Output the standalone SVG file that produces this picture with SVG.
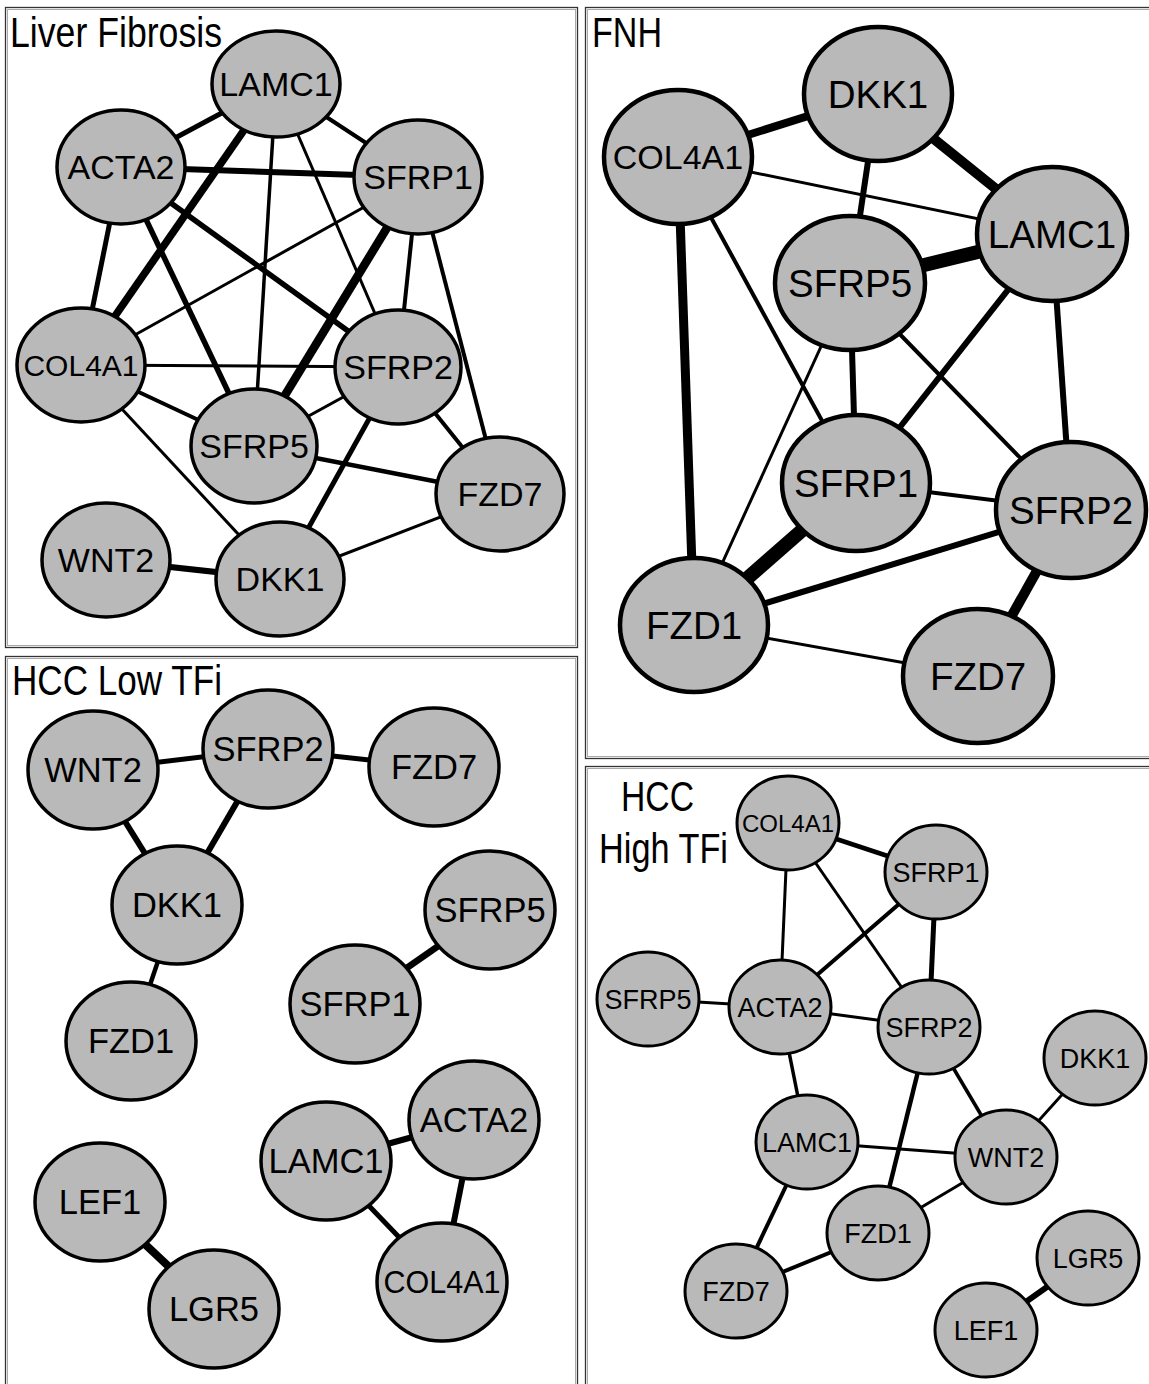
<svg xmlns="http://www.w3.org/2000/svg" width="1149" height="1384" viewBox="0 0 1149 1384">
<style>
.bg{fill:#fff}
.fo{fill:none;stroke:#333;stroke-width:1.3}
.fi{fill:none;stroke:#aaa;stroke-width:1}
.ttl{font-family:"Liberation Sans",Arial,sans-serif;font-size:42px;fill:#000}
.n ellipse{fill:#b9b9b9;stroke:#000}
.n text{font-family:"Liberation Sans",Arial,sans-serif;fill:#000;text-anchor:middle}
.p1 ellipse{stroke-width:3.5}
.p1 text{font-size:34px}
.p2 ellipse{stroke-width:4.5}
.p2 text{font-size:38.5px}
.p3 ellipse{stroke-width:3.5}
.p3 text{font-size:34.5px}
.p4 ellipse{stroke-width:3}
.p4 text{font-size:27px}
.e line{stroke:#000;stroke-linecap:butt}
</style>
<rect class="bg" x="0" y="0" width="1149" height="1384"/>
<g id="frames">
<rect class="fo" x="5.5" y="7.5" width="572" height="640"/>
<rect class="fi" x="7.5" y="9.5" width="568" height="636"/>
<rect class="fo" x="5.5" y="656.5" width="572" height="740"/>
<rect class="fi" x="7.5" y="658.5" width="568" height="740"/>
<rect class="fo" x="585.5" y="7.5" width="580" height="751"/>
<rect class="fi" x="587.5" y="9.5" width="580" height="747"/>
<rect class="fo" x="585.5" y="766.5" width="580" height="640"/>
<rect class="fi" x="587.5" y="768.5" width="580" height="640"/>
</g>
<g id="titles">
<text class="ttl" x="10" y="47" textLength="212" lengthAdjust="spacingAndGlyphs">Liver Fibrosis</text>
<text class="ttl" x="592" y="47" textLength="70" lengthAdjust="spacingAndGlyphs">FNH</text>
<text class="ttl" x="12" y="695" textLength="210" lengthAdjust="spacingAndGlyphs">HCC Low TFi</text>
<text class="ttl" x="621" y="811" textLength="73" lengthAdjust="spacingAndGlyphs">HCC</text>
<text class="ttl" x="599" y="863" textLength="129" lengthAdjust="spacingAndGlyphs">High TFi</text>
</g>
<g id="connectors" class="e">
<!-- Liver Fibrosis -->
<line x1="276" y1="84" x2="121" y2="167" stroke-width="5"/>
<line x1="276" y1="84" x2="418" y2="177" stroke-width="4"/>
<line x1="276" y1="84" x2="81" y2="365" stroke-width="7.5"/>
<line x1="276" y1="84" x2="254" y2="446" stroke-width="3.5"/>
<line x1="276" y1="84" x2="398" y2="367" stroke-width="3"/>
<line x1="121" y1="167" x2="418" y2="177" stroke-width="6"/>
<line x1="121" y1="167" x2="81" y2="365" stroke-width="5"/>
<line x1="121" y1="167" x2="254" y2="446" stroke-width="5.5"/>
<line x1="121" y1="167" x2="398" y2="367" stroke-width="5.5"/>
<line x1="418" y1="177" x2="81" y2="365" stroke-width="3"/>
<line x1="418" y1="177" x2="254" y2="446" stroke-width="8.5"/>
<line x1="418" y1="177" x2="398" y2="367" stroke-width="4"/>
<line x1="418" y1="177" x2="500" y2="494" stroke-width="4"/>
<line x1="81" y1="365" x2="398" y2="367" stroke-width="3"/>
<line x1="81" y1="365" x2="254" y2="446" stroke-width="4"/>
<line x1="81" y1="365" x2="280" y2="579" stroke-width="3"/>
<line x1="398" y1="367" x2="254" y2="446" stroke-width="3"/>
<line x1="398" y1="367" x2="500" y2="494" stroke-width="4"/>
<line x1="398" y1="367" x2="280" y2="579" stroke-width="5"/>
<line x1="254" y1="446" x2="500" y2="494" stroke-width="4.5"/>
<line x1="500" y1="494" x2="280" y2="579" stroke-width="3"/>
<line x1="106" y1="560" x2="280" y2="579" stroke-width="6"/>
<!-- FNH -->
<line x1="678" y1="157" x2="878" y2="94" stroke-width="8"/>
<line x1="878" y1="94" x2="1052" y2="234" stroke-width="10"/>
<line x1="878" y1="94" x2="850" y2="283" stroke-width="6"/>
<line x1="678" y1="157" x2="1052" y2="234" stroke-width="3"/>
<line x1="850" y1="283" x2="1052" y2="234" stroke-width="14"/>
<line x1="678" y1="157" x2="694" y2="625" stroke-width="9"/>
<line x1="678" y1="157" x2="856" y2="483" stroke-width="4"/>
<line x1="850" y1="283" x2="856" y2="483" stroke-width="6"/>
<line x1="850" y1="283" x2="694" y2="625" stroke-width="3"/>
<line x1="850" y1="283" x2="1071" y2="510" stroke-width="4"/>
<line x1="1052" y1="234" x2="856" y2="483" stroke-width="6"/>
<line x1="1052" y1="234" x2="1071" y2="510" stroke-width="6"/>
<line x1="856" y1="483" x2="1071" y2="510" stroke-width="4"/>
<line x1="856" y1="483" x2="694" y2="625" stroke-width="14"/>
<line x1="1071" y1="510" x2="694" y2="625" stroke-width="6"/>
<line x1="1071" y1="510" x2="978" y2="676" stroke-width="10"/>
<line x1="694" y1="625" x2="978" y2="676" stroke-width="3"/>
<!-- HCC Low TFi -->
<line x1="93" y1="770" x2="268" y2="749" stroke-width="5"/>
<line x1="268" y1="749" x2="434" y2="767" stroke-width="5"/>
<line x1="93" y1="770" x2="177" y2="905" stroke-width="6"/>
<line x1="268" y1="749" x2="177" y2="905" stroke-width="6"/>
<line x1="177" y1="905" x2="131" y2="1041" stroke-width="4.5"/>
<line x1="355" y1="1004" x2="490" y2="910" stroke-width="6.5"/>
<line x1="326" y1="1161" x2="474" y2="1120" stroke-width="6"/>
<line x1="474" y1="1120" x2="442" y2="1282" stroke-width="6"/>
<line x1="326" y1="1161" x2="442" y2="1282" stroke-width="5"/>
<line x1="100" y1="1202" x2="214" y2="1309" stroke-width="8"/>
<!-- HCC High TFi -->
<line x1="788" y1="823" x2="936" y2="872" stroke-width="4.5"/>
<line x1="788" y1="823" x2="780" y2="1007" stroke-width="3"/>
<line x1="788" y1="823" x2="929" y2="1027" stroke-width="3"/>
<line x1="936" y1="872" x2="780" y2="1007" stroke-width="4"/>
<line x1="936" y1="872" x2="929" y2="1027" stroke-width="5"/>
<line x1="648" y1="999" x2="780" y2="1007" stroke-width="3"/>
<line x1="780" y1="1007" x2="929" y2="1027" stroke-width="3"/>
<line x1="780" y1="1007" x2="807" y2="1142" stroke-width="3.5"/>
<line x1="929" y1="1027" x2="878" y2="1233" stroke-width="4.5"/>
<line x1="929" y1="1027" x2="1006" y2="1157" stroke-width="3.5"/>
<line x1="1095" y1="1058" x2="1006" y2="1157" stroke-width="3"/>
<line x1="807" y1="1142" x2="1006" y2="1157" stroke-width="3"/>
<line x1="807" y1="1142" x2="736" y2="1291" stroke-width="4"/>
<line x1="878" y1="1233" x2="1006" y2="1157" stroke-width="3"/>
<line x1="878" y1="1233" x2="736" y2="1291" stroke-width="4"/>
<line x1="1088" y1="1258" x2="986" y2="1330" stroke-width="6"/>
</g>
<!-- Liver Fibrosis nodes -->
<g id="lf-LAMC1" class="n p1"><ellipse cx="276" cy="84" rx="64" ry="53"/><text x="276" y="96">LAMC1</text></g>
<g id="lf-ACTA2" class="n p1"><ellipse cx="121" cy="167" rx="64" ry="57"/><text x="121" y="179">ACTA2</text></g>
<g id="lf-SFRP1" class="n p1"><ellipse cx="418" cy="177" rx="64" ry="57"/><text x="418" y="189">SFRP1</text></g>
<g id="lf-COL4A1" class="n p1"><ellipse cx="81" cy="365" rx="64" ry="57"/><text x="81" y="376" style="font-size:30px">COL4A1</text></g>
<g id="lf-SFRP2" class="n p1"><ellipse cx="398" cy="367" rx="63" ry="57"/><text x="398" y="379">SFRP2</text></g>
<g id="lf-SFRP5" class="n p1"><ellipse cx="254" cy="446" rx="63" ry="57"/><text x="254" y="458">SFRP5</text></g>
<g id="lf-FZD7" class="n p1"><ellipse cx="500" cy="494" rx="64" ry="57"/><text x="500" y="506">FZD7</text></g>
<g id="lf-WNT2" class="n p1"><ellipse cx="106" cy="560" rx="64" ry="57"/><text x="106" y="572">WNT2</text></g>
<g id="lf-DKK1" class="n p1"><ellipse cx="280" cy="579" rx="64" ry="57"/><text x="280" y="591">DKK1</text></g>
<!-- FNH nodes -->
<g id="fnh-DKK1" class="n p2"><ellipse cx="878" cy="94" rx="74" ry="67"/><text x="878" y="108">DKK1</text></g>
<g id="fnh-COL4A1" class="n p2"><ellipse cx="678" cy="157" rx="74" ry="67"/><text x="678" y="169" style="font-size:34px">COL4A1</text></g>
<g id="fnh-LAMC1" class="n p2"><ellipse cx="1052" cy="234" rx="75" ry="67"/><text x="1052" y="248">LAMC1</text></g>
<g id="fnh-SFRP5" class="n p2"><ellipse cx="850" cy="283" rx="75" ry="67"/><text x="850" y="297">SFRP5</text></g>
<g id="fnh-SFRP1" class="n p2"><ellipse cx="856" cy="483" rx="74" ry="68"/><text x="856" y="497">SFRP1</text></g>
<g id="fnh-SFRP2" class="n p2"><ellipse cx="1071" cy="510" rx="75" ry="68"/><text x="1071" y="524">SFRP2</text></g>
<g id="fnh-FZD1" class="n p2"><ellipse cx="694" cy="625" rx="74" ry="67"/><text x="694" y="639">FZD1</text></g>
<g id="fnh-FZD7" class="n p2"><ellipse cx="978" cy="676" rx="75" ry="67"/><text x="978" y="690">FZD7</text></g>
<!-- HCC Low TFi nodes -->
<g id="lo-WNT2" class="n p3"><ellipse cx="93" cy="770" rx="65" ry="59"/><text x="93" y="782">WNT2</text></g>
<g id="lo-SFRP2" class="n p3"><ellipse cx="268" cy="749" rx="65" ry="59"/><text x="268" y="761">SFRP2</text></g>
<g id="lo-FZD7" class="n p3"><ellipse cx="434" cy="767" rx="65" ry="59"/><text x="434" y="779">FZD7</text></g>
<g id="lo-DKK1" class="n p3"><ellipse cx="177" cy="905" rx="65" ry="59"/><text x="177" y="917">DKK1</text></g>
<g id="lo-FZD1" class="n p3"><ellipse cx="131" cy="1041" rx="65" ry="59"/><text x="131" y="1053">FZD1</text></g>
<g id="lo-SFRP5" class="n p3"><ellipse cx="490" cy="910" rx="65" ry="59"/><text x="490" y="922">SFRP5</text></g>
<g id="lo-SFRP1" class="n p3"><ellipse cx="355" cy="1004" rx="65" ry="59"/><text x="355" y="1016">SFRP1</text></g>
<g id="lo-ACTA2" class="n p3"><ellipse cx="474" cy="1120" rx="65" ry="59"/><text x="474" y="1132">ACTA2</text></g>
<g id="lo-LAMC1" class="n p3"><ellipse cx="326" cy="1161" rx="65" ry="59"/><text x="326" y="1173">LAMC1</text></g>
<g id="lo-COL4A1" class="n p3"><ellipse cx="442" cy="1282" rx="65" ry="59"/><text x="442" y="1293" style="font-size:30.5px">COL4A1</text></g>
<g id="lo-LEF1" class="n p3"><ellipse cx="100" cy="1202" rx="65" ry="59"/><text x="100" y="1214">LEF1</text></g>
<g id="lo-LGR5" class="n p3"><ellipse cx="214" cy="1309" rx="65" ry="59"/><text x="214" y="1321">LGR5</text></g>
<!-- HCC High TFi nodes -->
<g id="hi-COL4A1" class="n p4"><ellipse cx="788" cy="823" rx="51" ry="47"/><text x="788" y="832" style="font-size:24px">COL4A1</text></g>
<g id="hi-SFRP1" class="n p4"><ellipse cx="936" cy="872" rx="51" ry="47"/><text x="936" y="882">SFRP1</text></g>
<g id="hi-SFRP5" class="n p4"><ellipse cx="648" cy="999" rx="51" ry="47"/><text x="648" y="1009">SFRP5</text></g>
<g id="hi-ACTA2" class="n p4"><ellipse cx="780" cy="1007" rx="51" ry="47"/><text x="780" y="1017">ACTA2</text></g>
<g id="hi-SFRP2" class="n p4"><ellipse cx="929" cy="1027" rx="51" ry="47"/><text x="929" y="1037">SFRP2</text></g>
<g id="hi-DKK1" class="n p4"><ellipse cx="1095" cy="1058" rx="51" ry="47"/><text x="1095" y="1068">DKK1</text></g>
<g id="hi-LAMC1" class="n p4"><ellipse cx="807" cy="1142" rx="51" ry="47"/><text x="807" y="1152">LAMC1</text></g>
<g id="hi-WNT2" class="n p4"><ellipse cx="1006" cy="1157" rx="51" ry="47"/><text x="1006" y="1167">WNT2</text></g>
<g id="hi-FZD1" class="n p4"><ellipse cx="878" cy="1233" rx="51" ry="47"/><text x="878" y="1243">FZD1</text></g>
<g id="hi-FZD7" class="n p4"><ellipse cx="736" cy="1291" rx="51" ry="47"/><text x="736" y="1301">FZD7</text></g>
<g id="hi-LGR5" class="n p4"><ellipse cx="1088" cy="1258" rx="51" ry="47"/><text x="1088" y="1268">LGR5</text></g>
<g id="hi-LEF1" class="n p4"><ellipse cx="986" cy="1330" rx="51" ry="47"/><text x="986" y="1340">LEF1</text></g>
</svg>
